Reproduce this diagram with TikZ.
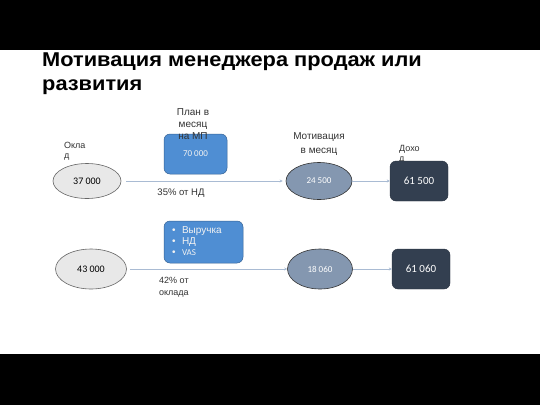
\documentclass[tikz,border=0pt]{standalone}
\usepackage{fontspec}
\setmainfont{Liberation Sans}
\newfontfamily\calfnt{Carlito}
\newfontfamily\titlefnt[FakeStretch=1.09]{Liberation Sans Bold}
\usetikzlibrary{shapes.geometric,arrows.meta}
\definecolor{ellgrey}{HTML}{E8E8E8}
\definecolor{ellslate}{HTML}{8497B0}
\definecolor{boxblue}{HTML}{4F8ED3}
\definecolor{boxdark}{HTML}{333F50}
\definecolor{arrowc}{HTML}{A9BBD3}
\tikzset{
  base/.style={ellipse,draw=gray!80!black,line width=0.6pt,fill=ellgrey,inner sep=0pt,font=\calfnt\fontsize{10}{11}\selectfont},
  mot/.style={ellipse,draw=gray!40!black,line width=0.6pt,fill=ellslate,text=white,inner sep=0pt,font=\calfnt\fontsize{9}{10}\selectfont},
  plan/.style={rectangle,rounded corners=6pt,draw=boxblue!70!black,line width=0.5pt,fill=boxblue,text=white!90!gray,inner sep=0pt},
  total/.style={rectangle,rounded corners=6pt,draw=boxdark!80!black,fill=boxdark,text=white,inner sep=0pt,font=\calfnt\fontsize{11}{12}\selectfont},
  lbl/.style={font=\fontsize{9}{10.5}\selectfont,text=black!80,align=center,inner sep=0pt},
  conn/.style={draw=arrowc,line width=0.6pt,-{Stealth[length=3pt,width=3pt]}}
}
\begin{document}
\begin{tikzpicture}[x=1pt,y=-1pt]
\useasboundingbox (0,0) rectangle (540,405);
\fill[white] (0,0) rectangle (540,405);
\node[anchor=north west,align=left,inner sep=0pt,font=\titlefnt\fontsize{20}{24}\selectfont] (title) at (42,53) {Мотивация менеджера продаж или\\развития};
\fill[black] (0,0) rectangle (540,50);
\fill[black] (0,354) rectangle (540,405);
% labels
\node[lbl,anchor=north west,align=left] (lokl) at (64,142) {Окла\\д};
\node[lbl,anchor=north west,align=left] (ldoh) at (399,145) {Дохо\\д};
% row 1
\node[base,minimum width=68pt,minimum height=35pt] (e1) at (87,181) {37 000};
\node[plan,minimum width=63pt,minimum height=40pt,font=\calfnt\fontsize{9}{10}\selectfont] (p1) at (195.5,154) {70 000};
\node[lbl,font=\fontsize{10}{12}\selectfont] (lplan) at (193,124) {План в\\месяц\\на МП};
\node[lbl,font=\fontsize{10}{13.5}\selectfont] (lmot) at (319,144) {Мотивация\\в месяц};
\node[mot,minimum width=66pt,minimum height=37pt] (m1) at (319,181) {24 500};
\node[total,minimum width=58pt,minimum height=40pt] (t1) at (419,181) {61 500};
\node[lbl,font=\fontsize{9.5}{10}\selectfont] (n1) at (181,193) {35\% от НД};
\draw[conn,shorten <=5pt,shorten >=3pt] (e1) -- (m1);
\draw[conn] (m1) -- (t1);
% row 2
\node[base,minimum width=71pt,minimum height=40pt] (e2) at (91,269) {43 000};
\node[plan,minimum width=79pt,minimum height=42pt,text width=63pt,inner xsep=8pt,align=left] (p2) at (203.5,242) {\begin{tabular}{@{}l@{\hspace{6.5pt}}l@{}}
\textbullet & \fontsize{10}{11}\selectfont Выручка\\[-1pt]
\textbullet & \fontsize{10}{11}\selectfont НД\\[-1pt]
\textbullet & \calfnt\fontsize{9}{11}\selectfont VAS
\end{tabular}};
\node[mot,minimum width=65pt,minimum height=40pt] (m2) at (320,269) {18 060};
\node[total,minimum width=58pt,minimum height=40pt] (t2) at (421,269) {61 060};
\node[lbl,anchor=north west,align=left,font=\fontsize{9}{12}\selectfont] (n2) at (159,277) {42\% от\\оклада};
\draw[conn,shorten <=3pt] (e2) -- (m2);
\draw[conn] (m2) -- (t2);
\end{tikzpicture}
\end{document}
